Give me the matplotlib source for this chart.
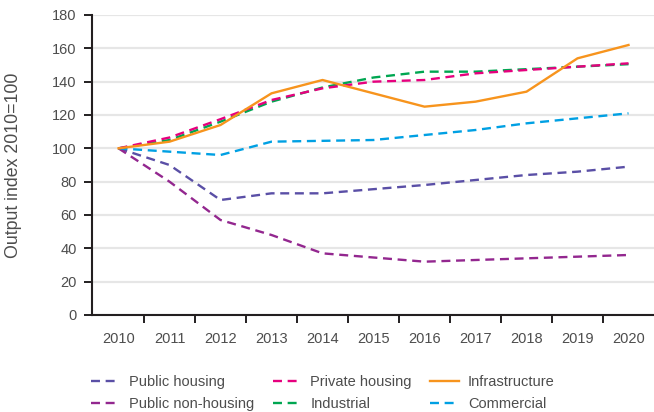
import numpy as np
import matplotlib
matplotlib.use("Agg")
from matplotlib import pyplot as plt
from matplotlib.ticker import FixedLocator

years = [2010, 2011, 2012, 2013, 2014, 2015, 2016, 2017, 2018, 2019, 2020]

public_housing = [100, 90, 69, 73, 73, 75.5, 78, 81, 84, 86, 89]
public_non_housing = [100, 80, 57, 48, 37, 34.5, 32, 33, 34, 35, 36]
private_housing = [100, 106.5, 117.5, 129, 136, 140, 141, 145, 147, 149, 151]
industrial = [100, 105, 116, 128, 136.5, 142.5, 146, 146, 147.5, 149, 150.5]
infrastructure = [100, 104, 114, 133, 141, 133, 125, 128, 134, 154, 162]
commercial = [100, 98, 96, 104, 104.5, 105, 108, 111, 115, 118, 121]

text_col = "#4d4d4d"
plt.rcParams['font.family'] = ['Liberation Sans', 'DejaVu Sans']
plt.rcParams['font.size'] = 10.5

fig = plt.figure(figsize=(6.54, 4.12), dpi=100)
ax = fig.add_axes([92/654, 1 - 315/412, 1 - 92/654, 300/412])

dash = (3.8, 2.4)
series = [
    ("Public housing", public_housing, "#5a4fa6", dash),
    ("Public non-housing", public_non_housing, "#93278f", dash),
    ("Private housing", private_housing, "#e6007e", dash),
    ("Industrial", industrial, "#00a651", dash),
    ("Infrastructure", infrastructure, "#f7941d", None),
    ("Commercial", commercial, "#00a0e3", dash),
]
# draw order: green under pink
draw_order = [0, 1, 5, 3, 2, 4]
handles = {}
for i in draw_order:
    name, vals, col, ds = series[i]
    if ds is None:
        ln, = ax.plot(years, vals, color=col, lw=1.7, label=name)
    else:
        ln, = ax.plot(years, vals, color=col, lw=1.7, dashes=ds, label=name)
    handles[name] = ln

ax.set_xlim(2009.48, 2020.5)
ax.set_ylim(0, 180)
ax.set_yticks(np.arange(0, 181, 20))
ax.set_xticks(years)
ax.xaxis.set_minor_locator(FixedLocator([y + 0.5 for y in years[:-1]]))
ax.tick_params(axis='x', which='major', length=0, pad=12, colors=text_col, labelsize=10.5)
ax.tick_params(axis='x', which='minor', length=6, width=1.4, color="#231f20")
ax.tick_params(axis='y', length=6, width=1.4, color="#231f20", labelcolor=text_col, labelsize=10.5, pad=5)
ax.grid(axis='y', color="#e6e6e6", lw=1.6)
ax.set_axisbelow(True)
for s in ['top', 'right']:
    ax.spines[s].set_visible(False)
for s in ['left', 'bottom']:
    ax.spines[s].set_linewidth(1.5)
    ax.spines[s].set_color("#231f20")
ax.set_ylabel("Output index 2010=100", color=text_col, fontsize=12.8)
ax.yaxis.set_label_coords(-0.1246, 0.5)

order = [s[0] for s in series]
leg = fig.legend([handles[n] for n in order], order, ncol=3, frameon=False,
                 loc='upper left', bbox_to_anchor=(78/654, 1 - 362/412),
                 handlelength=2.0, handletextpad=0.6, columnspacing=1.25,
                 labelspacing=0.55, fontsize=10.5, labelcolor=text_col)

fig.savefig("out.png", dpi=100)
